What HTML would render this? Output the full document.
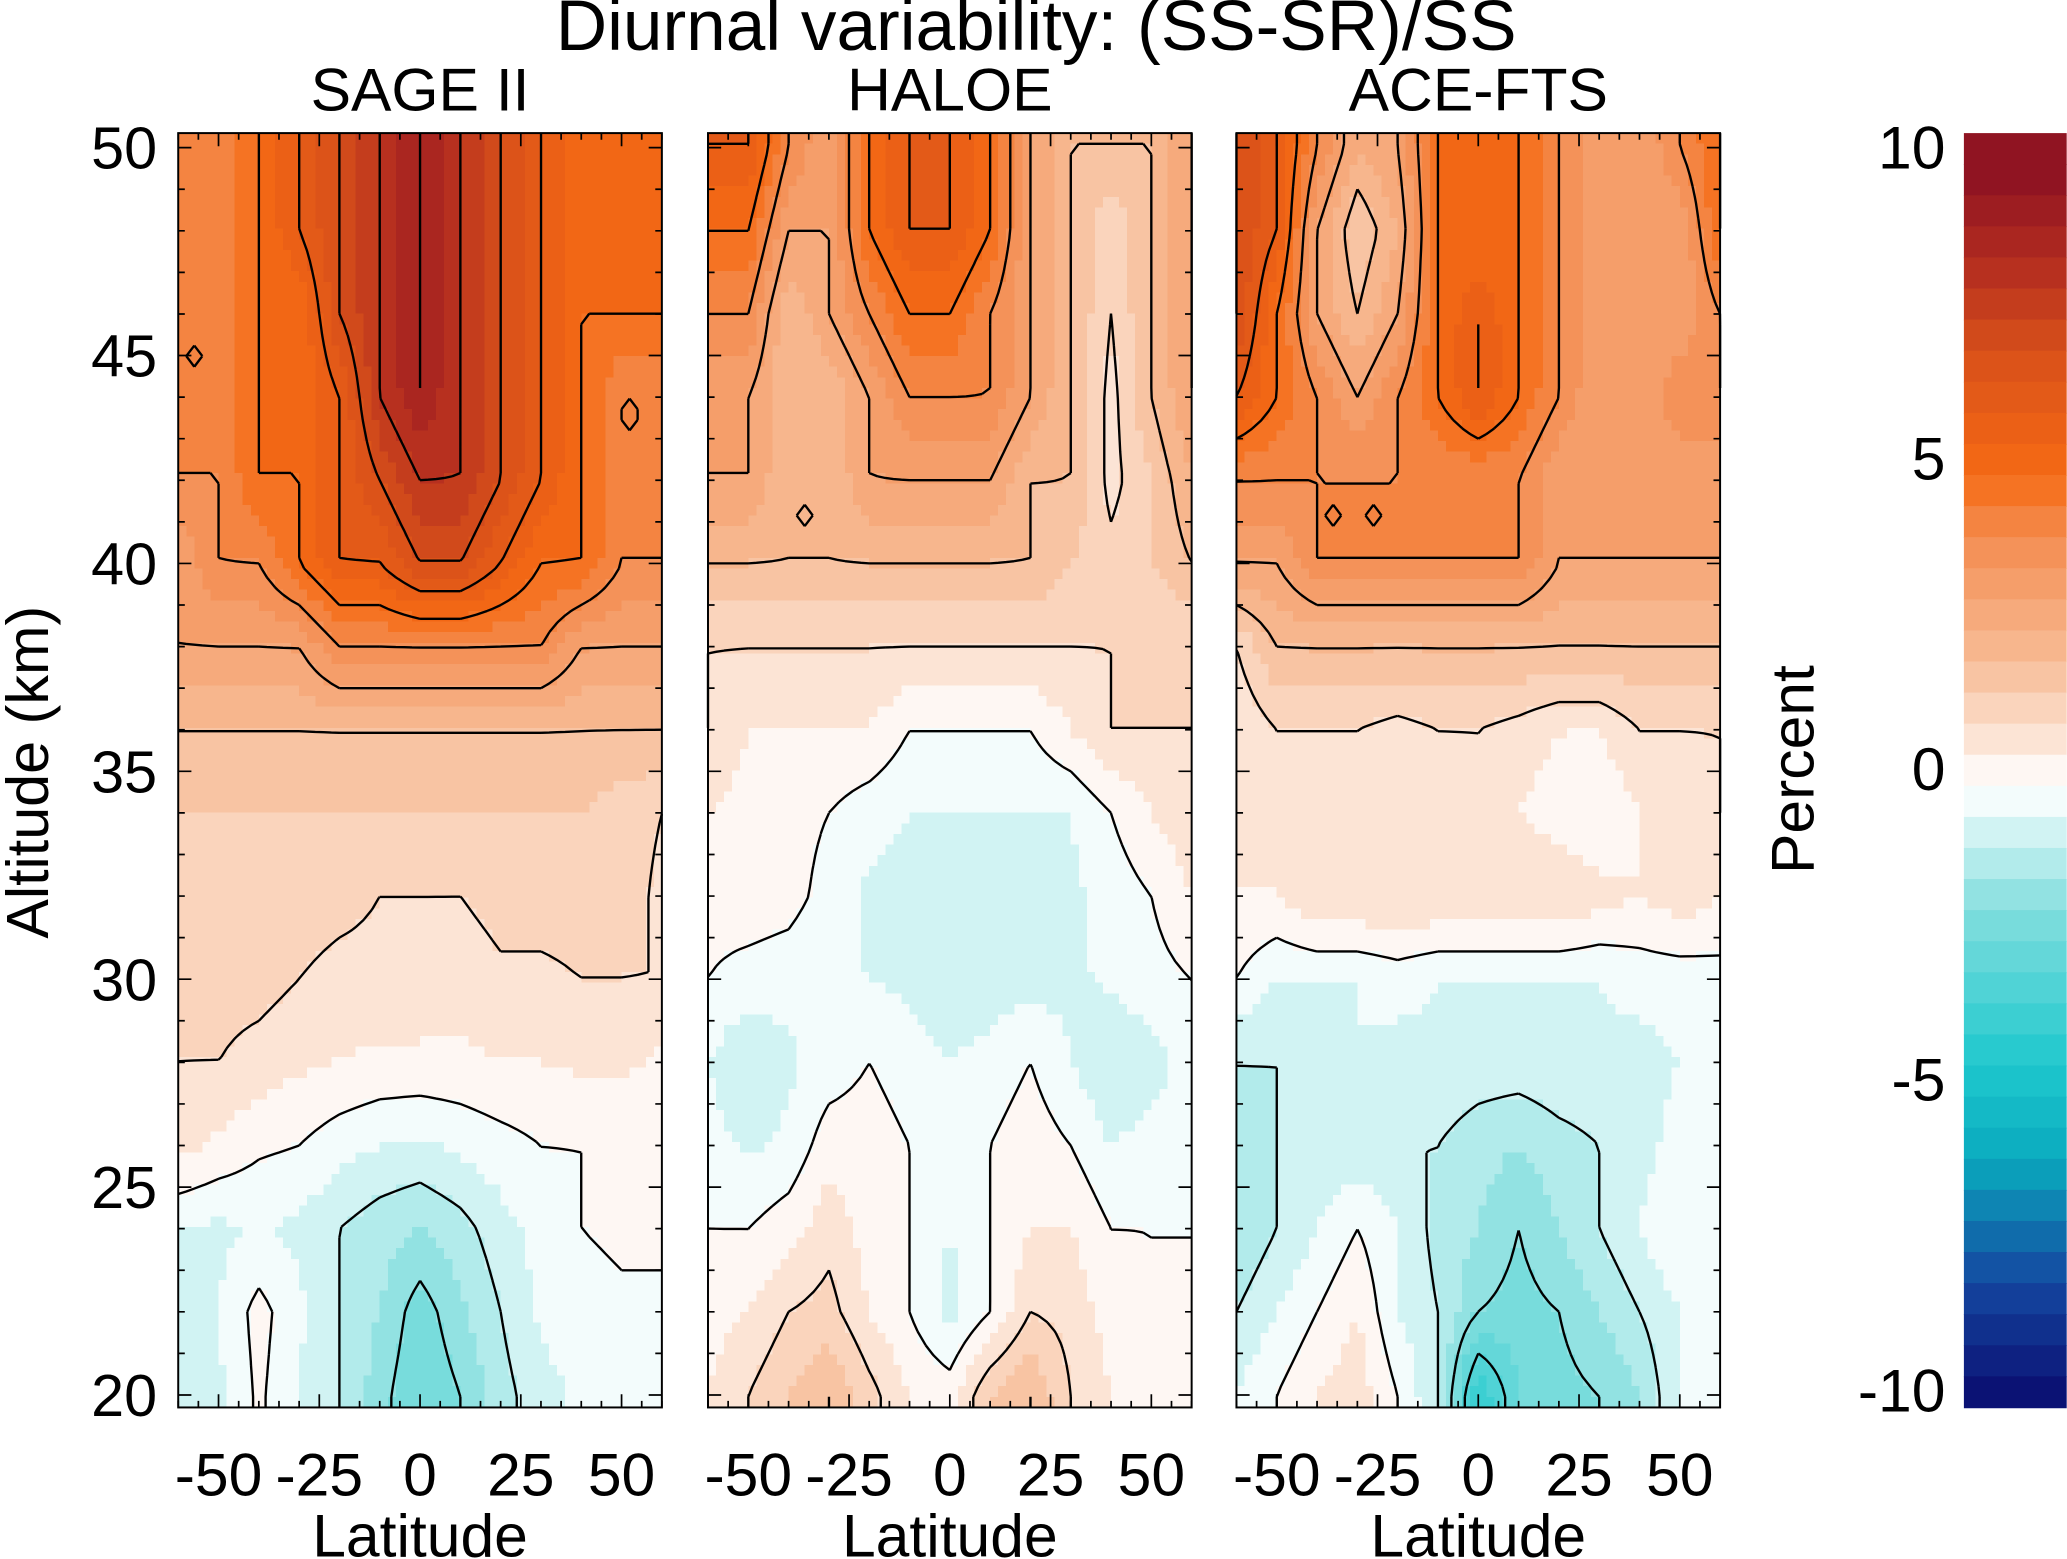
<!DOCTYPE html>
<html><head><meta charset="utf-8"><style>
html,body{margin:0;padding:0;background:#fff}
svg{display:block}
text{font-family:"Liberation Sans",Arial,sans-serif;fill:#000}
</style></head><body>
<svg id="chart" width="2067" height="1559" viewBox="0 0 1568 1183" xmlns="http://www.w3.org/2000/svg">
<text x="786" y="38" font-size="54" text-anchor="middle">Diurnal variability: (SS-SR)/SS</text>
<g id="panels"></g>
<text transform="translate(36,586) rotate(-90)" font-size="45" text-anchor="middle">Altitude (km)</text>
<g id="cbar"></g>
<text transform="translate(1376,584) rotate(-90)" font-size="46" text-anchor="middle">Percent</text>
</svg>
<script>
const lats=[-60,-50,-40,-30,-20,-10,0,10,20,30,40,50,60];
const alts=[50,48,46,44,42,40,38,36,34,32,30,28,26,24,22,20];
const panelTitles=["SAGE II","HALOE","ACE-FTS"];
const xTickLabels=[-50,-25,0,25,50];
const yTickLabels=[20,25,30,35,40,45,50];
const cbarTicks=[-10,-5,0,5,10];
const contourLevels=[-4,-3,-2,-1,0,1,2,3,4,5,6,7,8,9];
const sage=[
[4,4,5,6,7,8,9,8,7,6,5,5,5],
[4,4,5,6,7,8,9,8,7,6,5,5,5],
[4,4,5,5,7,8,9,8,7,6,5,5,5],
[4,4,5,5,6,8,9,8,7,6,5,4,4],
[4,4,5,5,6,7,8,8,7,6,5,4,4],
[3,4,4,5,6,6,7,7,6,5,5,4,4],
[3,3,3,3,4,4,4,4,4,4,3,3,3],
[2,2,2,2,2,2,2,2,2,2,2,2,2],
[1.5,1.5,1.5,1.5,1.5,1.5,1.5,1.5,1.5,1.5,1.5,1.2,1],
[1.3,1.3,1.3,1.3,1.2,1,1,1,1.2,1.2,1.2,1.2,0.9],
[1.2,1.2,1.2,1,0.8,0.8,0.8,0.7,0.9,0.9,1,1,1],
[1,1,0.8,0.6,0.5,0.4,0.4,0.4,0.5,0.5,0.6,0.6,0.4],
[0.7,0.4,0.1,0,-0.3,-0.5,-0.6,-0.4,-0.2,0,0,0.1,0.1],
[-0.5,-0.6,-0.5,-0.6,-1,-1.3,-1.5,-1.2,-0.7,-0.3,0,0.1,0.1],
[-0.8,-0.5,0.2,-0.4,-1,-1.5,-2.3,-1.6,-1,-0.4,-0.2,-0.1,-0.1],
[-1,-0.6,0.1,-0.5,-1,-1.8,-2.5,-2,-1.2,-0.7,-0.4,-0.3,-0.3]];
const haloe=[
[6,6,4,3,5,6,6,5,3,2,2,2,3],
[5,5,3,3,5,6,6,5,3,2,1,2,3],
[4,4,2,3,4,5,5,4,3,2,1,2,3],
[3,3,2,2,3,4,4,4,3,2,0.8,2,3],
[3,3,2,2,3,3,3,3,2,2,0.8,1.5,2.5],
[2,2,2,2,2,2,2,2,2,1.5,1.2,1.5,2],
[1,1,1,1,1,1,1,1,1,1,1,1,1],
[1,0.5,0.5,0.5,0.5,0,0,0,0,0.5,1,1,1],
[0.5,0.3,0.2,0,-0.3,-0.5,-0.5,-0.5,-0.5,-0.5,0,0.5,0.8],
[0.2,0.3,0.2,-0.2,-0.6,-0.8,-0.8,-0.7,-0.7,-0.6,-0.3,0,0.5],
[0,-0.2,-0.3,-0.5,-0.5,-0.6,-0.8,-0.8,-0.7,-0.6,-0.4,-0.2,0],
[-0.5,-1,-0.6,-0.3,0,-0.3,-0.5,-0.3,0,-0.5,-1,-0.7,-0.3],
[-0.3,-0.6,-0.4,0.3,0.3,0,-0.4,0,0.3,0,-0.5,-0.3,-0.2],
[0,0,0.3,0.8,0.3,0,-0.5,0,0.5,0.5,0,0,0],
[0.3,0.5,1,1.2,0.5,0,-0.7,0,1,0.8,0.3,0,0],
[0.5,1,1.5,2,1.2,0.5,0.3,1.5,2,1,0.5,0,0]];
const ace=[
[7,6,4,2.5,3,5,5,5,4,3,3,4,5],
[7,6,3,1.5,2.5,5,5,5,4,3,3,3,5],
[7,5,3,2,3,5,6,5,4,3,3,3,4],
[6,5,4,3,4,5,6,5,4,3,3,4,4],
[4,4,4,4,4,4,4,4,3,3,3,3,3],
[3,3,4,4,4,4,4,4,3,3,3,3,3],
[1,2,2,2,2,2,2,2,2,2,2,2,2],
[0.5,1,1,1,0.8,1,1,0.8,0.5,0.5,1,1,1],
[0.5,0.5,0.5,0.5,0.5,0.5,0.8,0.5,0.2,0,0.5,0.5,1],
[0.5,0.5,1,1,1,1,1,1,1,0.7,0.5,0.8,0.5],
[0,-0.5,-0.5,-0.5,-0.3,-0.5,-0.5,-0.5,-0.5,-0.5,-0.3,-0.3,-0.2],
[-1,-1,-0.8,-0.5,-0.7,-0.6,-0.7,-0.7,-0.6,-0.6,-0.7,-0.5,-0.3],
[-1.2,-1,-1,-0.8,-1,-1,-1.3,-1.5,-1.2,-1,-0.7,-0.3,0],
[-1.5,-1,-0.5,0,-0.5,-1.2,-1.5,-2,-1.5,-1,-0.5,0,-0.5],
[-1,-0.5,0,0.5,-0.5,-1,-2,-2.2,-2,-1.5,-1,-0.5,-0.5],
[-0.5,0,0.5,0.8,0,-1,-4,-2.5,-2.2,-2,-1.5,-0.5,-0.5]];
const panelData=[sage,haloe,ace];

const NS="http://www.w3.org/2000/svg";
function mk(tag,attrs,parent){const e=document.createElementNS(NS,tag);for(const k in attrs)e.setAttribute(k,attrs[k]);parent.appendChild(e);return e;}
const stops=[[-10,[10,10,110]],[-8,[20,70,160]],[-6,[10,170,190]],[-4.5,[30,200,205]],[-2,[130,222,222]],[-0.5,[225,247,247]],[0,[255,255,255]],[0.5,[253,236,226]],[2,[247,188,150]],[4,[243,140,80]],[5,[246,106,20]],[7,[216,80,26]],[8.5,[176,42,32]],[10,[138,15,34]]];
function color(v){v=Math.max(-10,Math.min(10,v));
 v=(Math.floor(v/0.5)+0.5)*0.5; if(Math.abs(v)<0.3)v=v>0?0.2:-0.2;
 for(let i=0;i<stops.length-1;i++){const a=stops[i],b=stops[i+1];if(v<=b[0]){const t=(v-a[0])/(b[0]-a[0]);const c=a[1].map((x,j)=>Math.round(x+(b[1][j]-x)*t));return `rgb(${c})`;}}
 return "rgb(138,15,34)";}
const PY0=101,PY1=1068,ALT0=50.35,ALT1=19.7;
const yS=a=>PY0+(ALT0-a)/(ALT0-ALT1)*(PY1-PY0);
const panelX=[135,537,938],PW=367;
function interp(d,lat,alt){
 let fi=(lat+60)/10, fj=(50-alt)/2;
 fi=Math.max(0,Math.min(12,fi));fj=Math.max(0,Math.min(15,fj));
 const i0=Math.min(11,Math.floor(fi)),j0=Math.min(14,Math.floor(fj));const ti=fi-i0,tj=fj-j0;
 return d[j0][i0]*(1-ti)*(1-tj)+d[j0][i0+1]*ti*(1-tj)+d[j0+1][i0]*(1-ti)*tj+d[j0+1][i0+1]*ti*tj;}
const root=document.getElementById('panels');
panelData.forEach((d,p)=>{
 const x0=panelX[p];const xS=l=>x0+(l+60)/120*PW;
 const g=mk('g',{},root);
 
 
 const NX=60,NY=120;const grid=[];
 for(let j=0;j<=NY;j++){grid.push([]);for(let i=0;i<=NX;i++){const lat=-60+120*i/NX,alt=ALT0-(ALT0-ALT1)*j/NY;grid[j].push(interp(d,lat,alt));}}
 const cw=PW/NX,ch=(PY1-PY0)/NY;
 const cells=mk('g',{'shape-rendering':'crispEdges'},g);
 
 
 for(let j=0;j<NY;j++)for(let i=0;i<NX;i++){
  const v=(grid[j][i]+grid[j][i+1]+grid[j+1][i]+grid[j+1][i+1])/4;
  const r=mk('rect',{x:(x0+i*cw).toFixed(2),y:(PY0+j*ch).toFixed(2),width:(cw+0.6).toFixed(2),height:(ch+0.6).toFixed(2),fill:color(v)},cells);
  
  }
 contourLevels.forEach(L=>{
  let path='';
  const px=i=>x0+i*cw, py=j=>PY0+j*ch;
  for(let j=0;j<NY;j++)for(let i=0;i<NX;i++){
   const a=grid[j][i],b=grid[j][i+1],c=grid[j+1][i+1],e=grid[j+1][i];
   const pts=[];
   const edge=(v1,v2,x1,y1,x2,y2)=>{if((v1<L)!==(v2<L)){const t=(L-v1)/(v2-v1);pts.push([x1+(x2-x1)*t,y1+(y2-y1)*t]);}};
   edge(a,b,px(i),py(j),px(i+1),py(j));
   edge(b,c,px(i+1),py(j),px(i+1),py(j+1));
   edge(c,e,px(i+1),py(j+1),px(i),py(j+1));
   edge(e,a,px(i),py(j+1),px(i),py(j));
   for(let k=0;k+1<pts.length;k+=2)path+=`M${pts[k][0].toFixed(1)} ${pts[k][1].toFixed(1)}L${pts[k+1][0].toFixed(1)} ${pts[k+1][1].toFixed(1)}`;
  }
  if(path){const pe=mk('path',{d:path,stroke:'#000','stroke-width':1.8,fill:'none'},g);
   
   }
 });
 const fr=mk('rect',{x:x0,y:PY0,width:PW,height:PY1-PY0,fill:'none',stroke:'#000','stroke-width':1.5},g);
 
 
 let tk='';
 for(let l=-60;l<=60;l+=5){const x=xS(l),len=(l%25===0)?10:5;tk+=`M${x} ${PY1}v${-len}M${x} ${PY0}v${len}`;}
 for(let a=20;a<=50;a++){const y=yS(a),len=(a%5===0)?10:5;tk+=`M${x0} ${y}h${len}M${x0+PW} ${y}h${-len}`;}
 const te=mk('path',{d:tk,stroke:'#000','stroke-width':1.3},g);
 
 
 xTickLabels.forEach(l=>{const t=mk('text',{x:xS(l),y:1135,'font-size':46,'text-anchor':'middle'},g);t.textContent=l;
  
  });
 const xt=mk('text',{x:x0+PW/2,y:1181,'font-size':46,'text-anchor':'middle'},g);xt.textContent='Latitude';
 
 
 const tt=mk('text',{x:x0+PW/2,y:84,'font-size':46,'text-anchor':'middle'},g);tt.textContent=panelTitles[p];
 
 
 if(p===0)yTickLabels.forEach(a=>{const t=mk('text',{x:119,y:yS(a)+16,'font-size':45,'text-anchor':'end'},g);t.textContent=a;
  
  });
});
const cb=document.getElementById('cbar');
const CY0=101,CY1=1068;const NB=41;const bh=(CY1-CY0)/NB;
const cyS=v=>112+(10-v)/20*(1055-112);
for(let k=0;k<NB;k++){const v=10-(k+0.5)*20/(NB-1)+10/(NB-1);const r=mk('rect',{x:1490,y:(CY0+k*bh).toFixed(2),width:78,height:(bh+0.6).toFixed(2),fill:color(Math.max(-9.9,Math.min(9.9,v)))},cb);
 
 }
cbarTicks.forEach(v=>{const t=mk('text',{x:1476,y:cyS(v)+16,'font-size':46,'text-anchor':'end'},cb);t.textContent=v;
 
 });
</script>
</body></html>
